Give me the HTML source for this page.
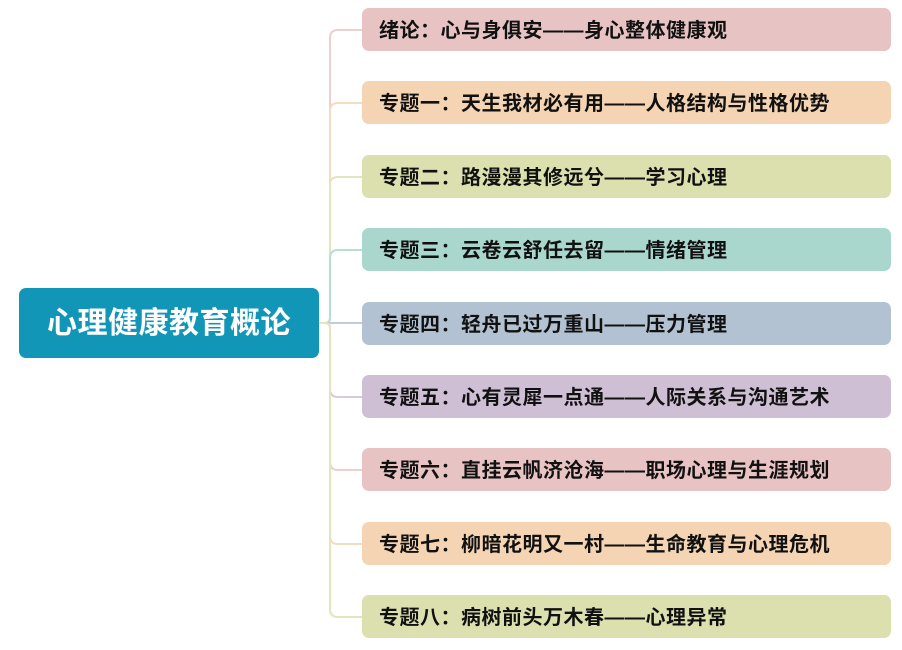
<!DOCTYPE html>
<html><head><meta charset="utf-8"><style>
html,body{margin:0;padding:0;background:#fff;width:902px;height:650px;overflow:hidden;position:relative;font-family:"Liberation Sans","Noto Sans CJK SC",sans-serif;}
.c{position:absolute;left:19px;top:288px;width:300px;height:70px;background:#1196b7;border-radius:7px;color:#fff;font-weight:bold;font-size:30px;line-height:72px;text-align:center;letter-spacing:0.5px;}
.n{position:absolute;left:362px;width:529px;height:43px;border-radius:7px;font-weight:bold;font-size:20px;line-height:43px;color:#111;box-sizing:border-box;padding-left:17px;padding-top:2px;white-space:nowrap;letter-spacing:0.5px;}
svg{position:absolute;left:0;top:0;}
</style></head><body>
<svg width="902" height="650" fill="none" stroke-width="2">
<path d="M319 323 H325 Q330 323 330 318 V38 Q330 30 338 30 H362" stroke="#eccfcf"/>
<path d="M319 323 H325 Q330 323 330 318 V111 Q330 103 338 103 H362" stroke="#f5dcc0"/>
<path d="M319 323 H325 Q330 323 330 318 V185 Q330 177 338 177 H362" stroke="#e3e5bf"/>
<path d="M319 323 H325 Q330 323 330 318 V258 Q330 250 338 250 H362" stroke="#b9ddd5"/>
<path d="M319 323 H362" stroke="#c1ccd9"/>
<path d="M319 323 H325 Q330 323 330 328 V389 Q330 397 338 397 H362" stroke="#d6cbdb"/>
<path d="M319 323 H325 Q330 323 330 328 V462 Q330 470 338 470 H362" stroke="#eccfcf"/>
<path d="M319 323 H325 Q330 323 330 328 V536 Q330 544 338 544 H362" stroke="#f5dcc0"/>
<path d="M319 323 H325 Q330 323 330 328 V609 Q330 617 338 617 H362" stroke="#e3e5bf"/>
</svg>
<div class="c">心理健康教育概论</div>
<div class="n" style="top:8px;background:#e8c3c3">绪论：心与身俱安——身心整体健康观</div>
<div class="n" style="top:81px;background:#f4d4b2">专题一：天生我材必有用——人格结构与性格优势</div>
<div class="n" style="top:155px;background:#dcdfae">专题二：路漫漫其修远兮——学习心理</div>
<div class="n" style="top:228px;background:#a9d7cd">专题三：云卷云舒任去留——情绪管理</div>
<div class="n" style="top:302px;background:#b3c2d2">专题四：轻舟已过万重山——压力管理</div>
<div class="n" style="top:375px;background:#cebfd4">专题五：心有灵犀一点通——人际关系与沟通艺术</div>
<div class="n" style="top:448px;background:#e8c3c3">专题六：直挂云帆济沧海——职场心理与生涯规划</div>
<div class="n" style="top:522px;background:#f4d4b2">专题七：柳暗花明又一村——生命教育与心理危机</div>
<div class="n" style="top:595px;background:#dcdfae">专题八：病树前头万木春——心理异常</div>
</body></html>
